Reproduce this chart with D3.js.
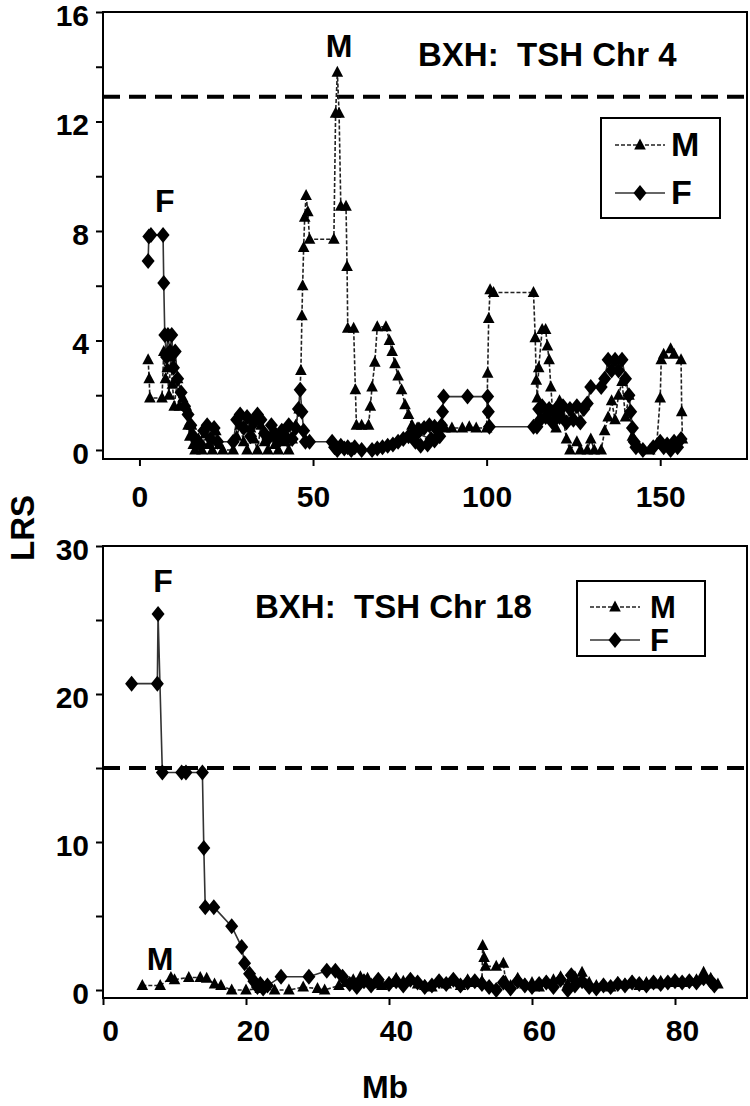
<!DOCTYPE html>
<html>
<head>
<meta charset="utf8">
<title>BXH: TSH Chr 4 / Chr 18</title>
<style>
  * { margin: 0; padding: 0; }
  body { background: #fff; }
  text { font-family: "Liberation Sans", Arial, sans-serif; font-weight: bold; fill: #000; }
  .frame { fill: none; stroke: #000; stroke-width: 2px; }
  .thr { stroke: #000; stroke-width: 4px; stroke-dasharray: 17 9; }
  .lineM { fill: none; stroke: #222; stroke-width: 1.6px; stroke-dasharray: 4 2; }
  .lineF { fill: none; stroke: #333; stroke-width: 1.6px; }
  .axis line { stroke: #000; stroke-width: 2px; }
  .axis path { display: none; }
</style>
</head>
<body>
<script src="https://cdn.jsdelivr.net/npm/d3@7/dist/d3.min.js"></script>
<script>
// ---- Chr 4 : [Mb, LRS] ----
var chr4M = [
  [2.5,3.3],[2.8,2.6],[3.0,1.9],[6.5,1.9],[7.0,3.6],[7.5,2.6],[8.0,3.0],[8.5,2.0],[9.0,3.4],[9.5,2.4],
  [10,1.6],[11,2.6],[11.5,1.6],[12.5,1.9],[13.5,1.6],[14,0.9],[14.5,0.5],[15,0.9],[15.5,0.2],[16,0.0],
  [17,0.4],[18,0.0],[19,0.6],[20,0.2],[21,0.0],[22,0.7],[23,0.2],[24,0.0],[27,0.0],[28,0.5],
  [29,0.9],[30,0.3],[31,0.0],[32,0.8],[33,0.4],[34,0.0],[35,0.9],[36,0.3],[37,0.0],[38,0.5],
  [39,0.2],[40,0.0],[41,0.6],[42,0.3],[43,0.0],[44,0.4],[45,0.9],[46,1.5],[46.5,2.9],[46.8,4.9],
  [47,6.0],[47.3,7.4],[47.6,8.5],[48,9.3],[48.5,8.7],[49,7.7],[56,7.7],[56.5,12.3],[57,13.8],[57.5,12.3],
  [58,8.9],[59.5,8.9],[59.8,6.7],[60,4.45],[61.7,4.45],[62.2,2.2],[62.5,0.9],[64,0.9],[66,0.9],[66.5,1.6],
  [67,2.3],[67.8,3.2],[68.5,4.5],[71,4.5],[72,4.0],[72.8,3.6],[73.6,3.15],[74.5,2.7],[75.5,2.2],[76.5,1.65],
  [77.5,1.3],[78.5,0.9],[80,0.8],[88,0.8],[90,0.8],[93,0.8],[95,0.85],[97,0.8],[100,0.8],[100.3,2.8],
  [100.6,4.8],[101,5.85],[102,5.75],[113.5,5.75],
  [114,4.1],[114.3,2.55],[114.6,1.9],[115,3.0],[116,4.4],[117,4.4],[117.5,3.8],[118,3.3],[118.5,2.3],[119,1.4],
  [120,0.8],[121,1.8],[122,1.2],[123,0.4],[124,0.0],[126,0.3],[127,0.0],[129,0.0],[130,0.4],[131,0.0],
  [133,0.0],[134,0.7],[135,1.2],[136,1.8],[137,1.1],[138,2.0],[139,2.5],[140,1.2],[141,2.0],[142,0.5],
  [144,0.1],[147,0.0],[149,0.2],[150,1.9],[150.3,3.3],[151,3.5],[153,3.7],[154,3.5],[156,3.3],[156.2,1.4],
  [156.4,0.4]
];
var chr4F = [
  [2.5,6.9],[2.7,7.8],[3.3,7.85],[6.8,7.85],[7.0,6.1],[7.3,4.2],[7.8,3.4],[8.2,4.2],[8.8,3.6],[9.3,4.2],
  [9.8,3.0],[10.3,3.6],[11,2.6],[12,2.1],[13,1.6],[14,1.3],[14.8,0.9],[15.5,0.5],[16.5,0.3],[17.5,0.2],
  [18.5,0.7],[19.5,0.9],[20.5,0.4],[21.5,0.8],[22.5,0.3],[27,0.3],[28,1.1],[29,1.3],[30,0.8],[31,1.2],
  [32,0.5],[33,1.0],[34,1.3],[35,1.1],[36,0.6],[37,0.4],[38,0.9],[39,0.6],[40,0.3],[41,0.7],
  [42,0.5],[43,0.9],[44,0.4],[45,0.8],[45.8,1.5],[46.3,2.2],[46.8,1.4],[47.3,0.7],[47.8,0.3],[49,0.3],
  [55.5,0.3],[56.2,0.1],[57,0.0],[58,0.15],[59,0.05],[60,0.1],[61,0.0],[62,0.1],[64,0.0],[67,0.0],
  [68.5,0.05],[70,0.1],[71.5,0.15],[73,0.2],[74.5,0.3],[76,0.4],[77.5,0.5],[79,0.65],[80.5,0.75],[82,0.8],
  [83.5,0.9],[85,0.85],[86,0.7],[85,0.35],[83,0.2],[81,0.15],[79.5,0.3],[78.5,0.5],[80,0.6],[84,0.4],
  [86.5,0.5],[87,0.9],[87.3,1.4],[87.6,1.95],[94.5,1.95],[100.3,1.95],[100.5,1.4],[100.8,0.85],[113.5,0.85],[114.5,0.85],
  [115,1.5],[115.5,1.1],[116,1.6],[117,1.2],[118,1.5],[119,1.0],[120,1.5],[121,1.2],[122,1.6],[123,1.0],
  [124,1.5],[125,1.1],[126,1.6],[127,1.0],[128,1.5],[129,1.7],[130,2.3],[133,2.3],[134,2.6],[135,3.3],
  [136,2.9],[137,3.3],[138,2.9],[139,3.3],[140,2.6],[141,2.0],[141.5,1.4],[142,0.8],[142.5,0.3],[143,0.1],
  [145,0.0],[148,0.1],[150,0.3],[151,0.1],[152,0.2],[153,0.0],[154,0.3],[155,0.1],[156,0.4]
];

// ---- Chr 18 : [Mb, LRS] ----
var chr18M = [
  [5.5,0.3],[8,0.3],[9.5,0.85],[10,0.7],[12,0.85],[13.6,0.85],[14.5,0.8],[15.6,0.4],[16.5,0.3],[18,0.0],
  [20,0.0],[22,0.1],[24,0.0],[26,0.0],[28,0.2],[30,0.1],[31,0.0],[33,0.3],[34,0.5],[35,0.7],
  [36,0.9],[37,0.8],[38,0.4],[39,0.3],[40,0.5],[41,0.8],[42,0.6],[43,0.7],[44,0.4],[45,0.3],
  [46,0.2],[47,0.5],[48,0.4],[49,0.6],[50,0.3],[51,0.7],[52,0.5],[53,0.6],[53.1,3.0],[53.3,2.2],
  [53.5,1.6],[55,1.6],[56,1.8],[56.3,0.6],[57,0.3],[58,0.8],[59,0.4],[60,0.5],[61,0.2],[62,0.6],
  [63,0.7],[64,0.9],[65,0.4],[66,0.9],[67,1.2],[68,0.5],[69,0.3],[70,0.4],[71,0.2],[72,0.5],
  [73,0.4],[74,0.6],[75,0.3],[76,0.5],[77,0.4],[78,0.6],[79,0.5],[80,0.7],[81,0.5],[82,0.6],
  [83,0.7],[84,1.2],[85,0.8],[86,0.4]
];
var chr18F = [
  [4.0,20.7],[7.6,20.7],[7.7,25.4],[8.3,14.7],[11.0,14.7],[11.6,14.7],[13.9,14.7],[14.1,9.6],[14.3,5.6],[15.5,5.6],
  [18.0,4.3],[19.4,2.9],[19.8,1.8],[20.5,1.1],[21.1,0.6],[21.6,0.2],[22.0,0.4],[22.4,0.1],[23.0,0.3],[24.9,0.9],
  [28.8,0.9],[31.3,1.3],[32.5,1.3],[33.5,0.9],[34.5,0.4],[35.5,0.2],[36.5,0.6],[37.5,0.3],[38.5,0.7],[40,0.4],
  [41,0.6],[42,0.3],[43,0.7],[44,0.5],[45,0.2],[46,0.3],[47,0.6],[48,0.4],[49,0.7],[50,0.3],
  [51,0.5],[52,0.6],[53,0.4],[54,0.2],[55,0.0],[56,0.5],[57,0.1],[58,0.6],[59,0.3],[60,0.2],
  [61,0.4],[62,0.5],[63,0.2],[64,0.7],[65,0.0],[65.5,1.0],[66,0.3],[67,0.6],[68,0.2],[69,0.1],
  [70,0.3],[71,0.2],[72,0.4],[73,0.3],[74,0.5],[75,0.4],[76,0.3],[77,0.5],[78,0.4],[79,0.5],
  [80,0.6],[81,0.5],[82,0.6],[83,0.5],[84,0.8],[85,0.6],[85.5,0.3]
];

var seriesNames = ['M', 'F'];
var thr4 = 12.9, thr18 = 15.0;
var ticks4Y = [0, 2, 4, 6, 8, 10, 12, 14, 16];
var ticks4X = [0, 50, 100, 150];
var ticks18Y = [0, 5, 10, 15, 20, 25, 30];
var ticks18X = [0, 20, 40, 60, 80];

var W = 750, H = 1106;
var svg = d3.select('body').append('svg')
  .attr('width', W).attr('height', H)
  .attr('viewBox', `0 0 ${W} ${H}`);

var triPath = 'M0,-6.5L5.8,4.5L-5.8,4.5Z';
var diaPath = 'M0,-8L6.5,0L0,8L-6.5,0Z';

function panel(o) {
  var x = d3.scaleLinear().domain(o.xDom).range([o.left, o.right]);
  var y = d3.scaleLinear().domain(o.yDom).range([o.bottom, o.top]);
  var g = svg.append('g');

  // threshold
  g.append('line').attr('class', 'thr')
    .attr('x1', o.left).attr('x2', o.right)
    .attr('y1', y(o.thr)).attr('y2', y(o.thr));

  var line = d3.line().x(d => x(d[0])).y(d => y(d[1]));
  g.append('path').datum(o.M).attr('class', 'lineM').attr('d', line);
  g.append('path').datum(o.F).attr('class', 'lineF').attr('d', line);

  g.selectAll('.mkM').data(o.M).enter().append('path')
    .attr('d', triPath).attr('fill', '#000')
    .attr('transform', d => `translate(${x(d[0])},${y(d[1])})`);
  g.selectAll('.mkF').data(o.F).enter().append('path')
    .attr('d', diaPath).attr('fill', '#000')
    .attr('transform', d => `translate(${x(d[0])},${y(d[1])})`);

  // axes
  var ya = g.append('g').attr('class', 'axis')
    .attr('transform', `translate(${o.left},0)`)
    .call(d3.axisLeft(y).tickValues(o.yTicks).tickSize(7).tickPadding(7)
      .tickFormat(d => o.yLabels.indexOf(d) >= 0 ? d : ''));
  ya.selectAll('text').attr('font-size', 30).attr('font-family', null).attr('dy', '0.44em');

  var xa = g.append('g').attr('class', 'axis')
    .attr('transform', `translate(0,${o.bottom})`)
    .call(d3.axisBottom(x).tickValues(o.xTicks).tickSize(7).tickPadding(o.xPad));
  xa.selectAll('text').attr('font-size', 30).attr('font-family', null).attr('dx', o.xdx);

  g.append('rect').attr('class', 'frame')
    .attr('x', o.left).attr('y', o.top)
    .attr('width', o.right - o.left).attr('height', o.bottom - o.top);

  // title
  g.append('text').attr('x', o.titleX).attr('y', o.titleY)
    .attr('font-size', 33).attr('xml:space', 'preserve')
    .text(o.title);

  // peak labels
  o.notes.forEach(n => {
    g.append('text').attr('x', x(n[1])).attr('y', y(n[2]))
      .attr('text-anchor', 'middle').attr('font-size', 32).text(n[0]);
  });

  // legend
  var L = o.legend;
  var lg = g.append('g');
  lg.append('rect').attr('class', 'frame')
    .attr('x', L.x).attr('y', L.y).attr('width', L.w).attr('height', L.h);
  seriesNames.forEach((s, i) => {
    var ly = L.rows[i];
    lg.append('line').attr('class', s === 'M' ? 'lineM' : 'lineF')
      .attr('x1', L.lx1).attr('x2', L.lx2).attr('y1', ly).attr('y2', ly);
    lg.append('path').attr('d', s === 'M' ? triPath : diaPath).attr('fill', '#000')
      .attr('transform', `translate(${(L.lx1 + L.lx2) / 2},${ly})`);
    lg.append('text').attr('x', L.tx).attr('y', ly + 11)
      .attr('font-size', L.fs).text(s);
  });
}

panel({
  left: 103, right: 747, top: 12, bottom: 459,
  xDom: [-10.5, 175], yDom: [-0.33, 16],
  yTicks: ticks4Y, yLabels: [0, 4, 8, 12, 16], xTicks: ticks4X, xPad: 20, xdx: 0,
  thr: thr4, M: chr4M, F: chr4F,
  title: 'BXH:  TSH Chr 4', titleX: 418, titleY: 66,
  notes: [['F', 7.3, 8.7], ['M', 57.5, 14.35]],
  legend: { x: 601, y: 118, w: 119, h: 100, rows: [145, 193], lx1: 615, lx2: 665, tx: 671, fs: 34 }
});

panel({
  left: 103, right: 747, top: 546, bottom: 998,
  xDom: [0, 90.07], yDom: [-0.54, 30],
  yTicks: ticks18Y, yLabels: [0, 10, 20, 30], xTicks: ticks18X, xPad: 15, xdx: 7,
  thr: thr18, M: chr18M, F: chr18F,
  title: 'BXH:  TSH Chr 18', titleX: 255, titleY: 618,
  notes: [['F', 8.4, 26.9], ['M', 8.0, 1.35]],
  legend: { x: 577, y: 581, w: 128, h: 75, rows: [607, 640], lx1: 590, lx2: 640, tx: 650, fs: 31 }
});

// axis titles
svg.append('text').attr('transform', 'translate(34,528) rotate(-90)')
  .attr('text-anchor', 'middle').attr('font-size', 33).text('LRS');
svg.append('text').attr('x', 385).attr('y', 1098)
  .attr('text-anchor', 'middle').attr('font-size', 32).text('Mb');
</script>
</body>
</html>
